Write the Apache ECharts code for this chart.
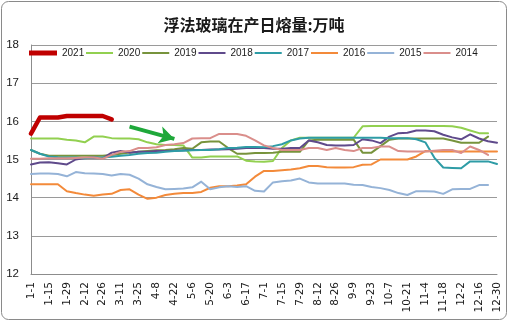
<!DOCTYPE html>
<html>
<head>
<meta charset="utf-8">
<script src="https://cdn.jsdelivr.net/npm/echarts@6/dist/echarts.min.js"></script>
<style>
html,body{margin:0;padding:0;background:#fff;}
#c{width:508px;height:321px;}
</style>
</head>
<body>
<div id="c"></div>
<script>
var titleText = '浮法玻璃在产日熔量:万吨';
var categories = ['1-1','1-8','1-15','1-22','1-29','2-5','2-12','2-19','2-26','3-4','3-11','3-18','3-25','4-1','4-8','4-15','4-22','4-29','5-6','5-13','5-20','5-27','6-3','6-10','6-17','6-24','7-1','7-8','7-15','7-22','7-29','8-5','8-12','8-19','8-26','9-2','9-9','9-16','9-23','9-30','10-7','10-14','10-21','10-28','11-4','11-11','11-18','11-25','12-2','12-9','12-16','12-23','12-30'];
var seriesNames = ['2021','2020','2019','2018','2017','2016','2015','2014'];
var v2021 = [15.68,16.1,16.1,16.1,16.14,16.14,16.14,16.14,16.14,16.05];
var v2020 = [15.55,15.55,15.55,15.55,15.52,15.5,15.45,15.6,15.6,15.56,
  15.55,15.55,15.53,15.45,15.4,15.38,15.38,15.37,15.05,15.05,
  15.08,15.08,15.08,15.08,14.97,14.95,14.94,14.96,15.3,15.5,
  15.57,15.57,15.57,15.57,15.57,15.57,15.57,15.87,15.88,15.88,
  15.88,15.88,15.88,15.88,15.88,15.88,15.88,15.87,15.83,15.76,
  15.69,15.69];
var v2019 = [15.25,15.15,15.1,15.1,15.1,15.1,15.1,15.1,15.1,15.12,
  15.15,15.18,15.2,15.22,15.24,15.25,15.27,15.3,15.28,15.45,
  15.47,15.47,15.3,15.15,15.15,15.17,15.17,15.18,15.2,15.2,
  15.2,15.5,15.52,15.52,15.52,15.52,15.52,15.18,15.18,15.35,
  15.52,15.55,15.55,15.55,15.55,15.55,15.55,15.5,15.44,15.44,
  15.44,15.6];
var v2018 = [14.87,14.92,14.93,14.9,14.87,15.0,15.04,15.05,15.03,15.18,
  15.22,15.18,15.2,15.2,15.22,15.22,15.23,15.24,15.25,15.25,
  15.26,15.26,15.27,15.28,15.3,15.3,15.3,15.28,15.28,15.3,
  15.3,15.5,15.45,15.38,15.37,15.37,15.38,15.53,15.5,15.43,
  15.6,15.69,15.7,15.76,15.76,15.74,15.65,15.58,15.53,15.66,
  15.55,15.48,15.44];
var v2017 = [15.25,15.15,15.08,15.06,15.05,15.05,15.03,15.05,15.05,15.07,
  15.1,15.12,15.15,15.17,15.18,15.2,15.22,15.23,15.24,15.25,
  15.25,15.27,15.3,15.31,15.33,15.33,15.32,15.35,15.4,15.5,
  15.55,15.57,15.57,15.57,15.57,15.57,15.57,15.57,15.57,15.57,
  15.56,15.56,15.56,15.53,15.45,15.05,14.79,14.78,14.77,14.95,
  14.95,14.95,14.88];
var v2016 = [14.35,14.35,14.35,14.35,14.17,14.12,14.08,14.05,14.08,14.1,
  14.2,14.22,14.08,13.97,14.0,14.07,14.1,14.12,14.12,14.15,
  14.26,14.3,14.3,14.32,14.35,14.55,14.7,14.7,14.72,14.74,
  14.77,14.83,14.83,14.8,14.79,14.79,14.8,14.86,14.87,15.0,
  15.0,15.0,15.0,15.08,15.22,15.21,15.21,15.21,15.21,15.21,
  15.21,15.21,15.21];
var v2015 = [14.62,14.63,14.63,14.62,14.56,14.67,14.64,14.63,14.62,14.58,
  14.62,14.6,14.5,14.35,14.28,14.22,14.23,14.24,14.27,14.42,
  14.22,14.27,14.3,14.28,14.3,14.18,14.16,14.4,14.43,14.45,
  14.5,14.4,14.37,14.37,14.37,14.37,14.34,14.33,14.28,14.25,
  14.2,14.12,14.07,14.17,14.17,14.16,14.1,14.22,14.23,14.23,
  14.33,14.33];
var v2014 = [15.02,15.02,15.03,15.03,15.03,15.04,15.05,15.05,15.02,15.12,
  15.2,15.22,15.3,15.3,15.32,15.38,15.4,15.43,15.55,15.56,
  15.56,15.67,15.67,15.67,15.62,15.5,15.37,15.3,15.25,15.25,
  15.25,15.3,15.3,15.25,15.3,15.25,15.22,15.3,15.3,15.34,
  15.34,15.22,15.21,15.21,15.21,15.23,15.25,15.25,15.17,15.34,
  15.25,15.12];
var yTicks = [12,13,14,15,16,17,18];
var arrowFrom = ['3-18', 15.86];
var arrowTo = ['4-22', 15.54];

var allValues = [v2021,v2020,v2019,v2018,v2017,v2016,v2015,v2014];
var colors = ['#C00000','#92D050','#77933C','#5F4A8B','#2E9CA6','#F38A3A','#95B3D7','#DA8E8B'];
var widths = [4.5,2,2,2,2,2,2,2];

var series = seriesNames.map(function(name, i){
  return {
    name: name,
    type: 'line',
    data: allValues[i],
    symbol: 'none',
    smooth: false,
    color: colors[i],
    itemStyle: {color: colors[i]},
    lineStyle: {width: widths[i], color: colors[i], cap: 'round', join: 'round'},
    z: 2
  };
});
series[0].z = 3;
series[0].markLine = {
  silent: true,
  symbol: ['none','arrow'],
  symbolSize: [13, 15],
  label: {show: false},
  lineStyle: {color: '#1FA83A', width: 4, type: 'solid'},
  data: [[{coord: arrowFrom}, {coord: arrowTo}]]
};

var legendText = {fontFamily: 'Liberation Sans', fontSize: 10, color: '#1a1a1a', width: 22};

var chart = echarts.init(document.getElementById('c'), null, {renderer: 'canvas'});
chart.setOption({
  animation: false,
  backgroundColor: '#ffffff',
  title: {
    text: titleText,
    left: 'center',
    top: 12,
    textStyle: {fontFamily: 'Noto Sans CJK SC', fontSize: 16, fontWeight: 'bold', color: '#1a1a1a'}
  },
  legend: [{
    data: seriesNames.slice(0, 1),
    icon: 'rect',
    left: 29,
    top: 48,
    padding: 0,
    itemWidth: 28,
    itemHeight: 5,
    itemGap: 2,
    textStyle: legendText
  }, {
    data: seriesNames.slice(1),
    icon: 'rect',
    left: 86,
    top: 48,
    padding: 0,
    itemWidth: 27,
    itemHeight: 2,
    itemGap: 2,
    textStyle: legendText
  }],
  grid: {left: 31, right: 11, top: 45, bottom: 47, containLabel: false},
  xAxis: {
    type: 'category',
    data: categories,
    boundaryGap: false,
    axisLine: {show: true, lineStyle: {color: '#8c8c8c', width: 1}},
    axisTick: {show: false},
    axisLabel: {interval: 1, rotate: 90, margin: 8, fontFamily: 'DejaVu Sans', fontSize: 10.5, color: '#1a1a1a'},
    splitLine: {show: false}
  },
  yAxis: {
    type: 'value',
    min: yTicks[0],
    max: yTicks[yTicks.length-1],
    interval: 1,
    axisLine: {show: true, lineStyle: {color: '#8c8c8c', width: 1}},
    axisTick: {show: false},
    axisLabel: {margin: 12, fontFamily: 'Liberation Sans', fontSize: 11.5, color: '#1a1a1a'},
    splitLine: {show: true, lineStyle: {color: '#9a9a9a', width: 1}}
  },
  graphic: [{
    type: 'rect',
    silent: true,
    shape: {x: 1.5, y: 1.5, width: 505, height: 318, r: 7},
    style: {fill: 'none', stroke: '#8a8a8a', lineWidth: 1},
    z: -1
  }],
  series: series
});
</script>
</body>
</html>
